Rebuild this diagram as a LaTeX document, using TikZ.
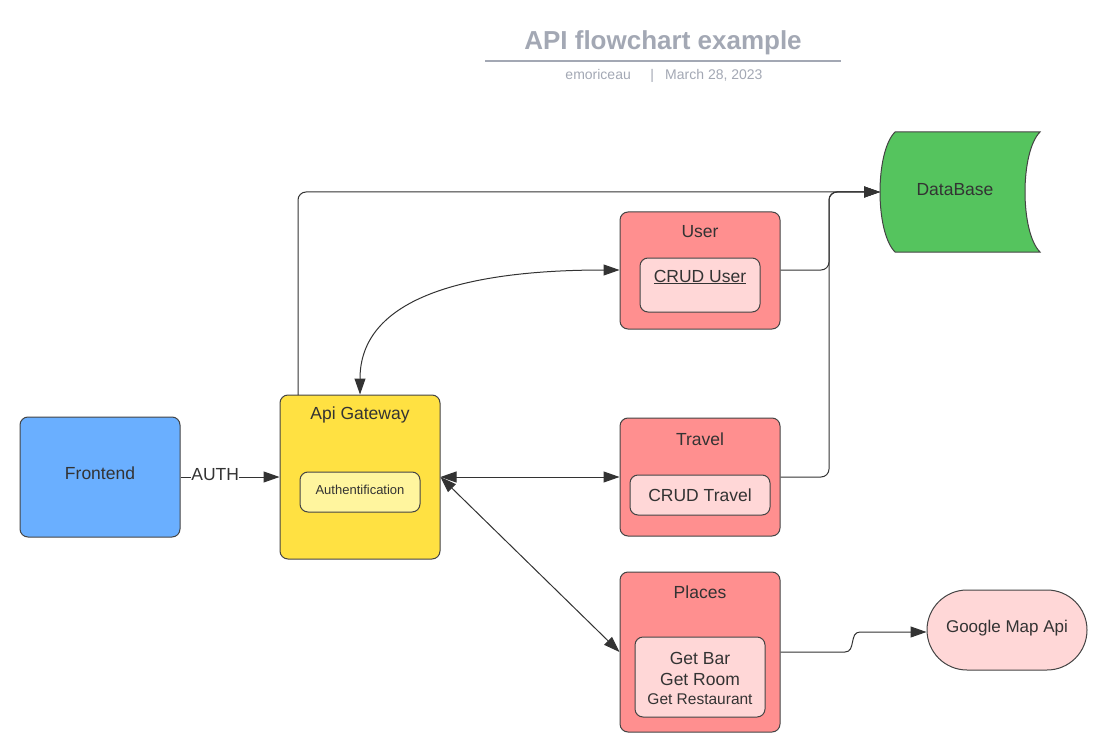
\documentclass[tikz,border=0pt]{standalone}
\usepackage{fontspec}
\setmainfont{Liberation Sans}
\usetikzlibrary{arrows.meta}
\definecolor{txt}{HTML}{333333}
\definecolor{edge}{HTML}{444444}
\definecolor{ttl}{HTML}{A3A8B4}
\definecolor{fblue}{HTML}{6AAFFF}
\definecolor{fyellow}{HTML}{FFE142}
\definecolor{flyellow}{HTML}{FFF59E}
\definecolor{fred}{HTML}{FF8F8F}
\definecolor{flred}{HTML}{FFD7D7}
\definecolor{fgreen}{HTML}{55C45E}
\tikzset{
  box/.style={draw=edge, line width=1pt, rounded corners=8pt, inner sep=0pt},
  lbl/.style={text=txt, inner sep=0pt, font=\fontsize{17.5}{21}\selectfont, align=center},
  conn/.style={draw=txt, line width=1pt},
  tip/.tip={Triangle[length=16pt,width=11pt]},
  arr/.style={conn, -tip},
  darr/.style={conn, tip-tip},
}
\begin{document}
\begin{tikzpicture}[x=1pt,y=-1pt]
\useasboundingbox (0,0) rectangle (1107,751);
% title
\node[text=ttl, font=\fontsize{26}{30}\selectfont\bfseries, inner sep=0pt] (title) at (663,42.5) {API flowchart example};
\coordinate (tl) at (485,61);
\coordinate (tr) at (841,61);
\draw[ttl, line width=2pt] (tl) -- (tr);
\node[text=ttl, font=\fontsize{14}{17}\selectfont, inner sep=0pt] (sub) at (664,76) {emoriceau\hspace{1.4em}|\hspace{0.8em}March 28, 2023};

% frontend
\node[box, fill=fblue, minimum width=160pt, minimum height=120pt] (fe) at (100,477) {};
\node[lbl] (fet) at (100,473) {Frontend};

% gateway
\node[box, fill=fyellow, minimum width=160pt, minimum height=164pt] (gw) at (360,477) {};
\node[lbl] (gwt) at (360,415) {Api Gateway};
\node[box, fill=flyellow, minimum width=120pt, minimum height=40pt, text=txt, font=\fontsize{13}{16}\selectfont] (auth) at (360,492) {};
\node[lbl, font=\fontsize{13}{16}\selectfont] (autht) at (360,490) {Authentification};

% user
\node[box, fill=fred, minimum width=160pt, minimum height=117pt] (user) at (700,270.5) {};
\node[lbl] (usert) at (700,232) {User};
\node[box, fill=flred, minimum width=120pt, minimum height=54pt] (cuser) at (700,285) {};
\node[lbl] (cusert) at (700,277) {\underline{CRUD User}};

% travel
\node[box, fill=fred, minimum width=160pt, minimum height=118pt] (travel) at (700,477) {};
\node[lbl] (travelt) at (700,439) {Travel};
\node[box, fill=flred, minimum width=140pt, minimum height=40pt] (ctravel) at (700,495) {};
\node[lbl] (ctravelt) at (700,495) {CRUD Travel};

% places
\node[box, fill=fred, minimum width=160pt, minimum height=160pt] (places) at (700,652) {};
\node[lbl] (placest) at (700,592) {Places};
\node[box, fill=flred, minimum width=130pt, minimum height=80pt] (cplaces) at (700,677) {};
\node[lbl] (gb) at (700,658) {Get Bar};
\node[lbl] (gr) at (700,679) {Get Room};
\node[lbl, font=\fontsize{15.5}{18}\selectfont] (grest) at (700,699) {Get Restaurant};

% database
\path[draw=edge, line width=1pt, fill=fgreen] (895,132) -- (1040,132)
  .. controls (1020,152) and (1020,232) .. (1040,252) -- (895,252)
  .. controls (875,232) and (875,152) .. (895,132) -- cycle;
\node[lbl] (db) at (955,190) {DataBase};
\coordinate (dbin) at (880,192);

% google map api
\node[box, fill=flred, rounded corners=40pt, minimum width=160pt, minimum height=80pt] (gm) at (1007,630) {};
\node[lbl, font=\fontsize{17}{20}\selectfont] (gmt) at (1007,628) {Google Map Api};

% connectors
\draw[arr] (fe.east |- 0,477) -- node[fill=white, text=txt, inner sep=0.5pt, font=\fontsize{17.5}{21}\selectfont, pos=0.35, yshift=2pt] (authl) {AUTH} (gw.west |- 0,477);

\coordinate (gwup) at (298,395);
\coordinate (c1) at (298,192);
\draw[arr, rounded corners=8pt] (gwup) -- (c1) -- (dbin);

\coordinate (u1) at (829,270);
\coordinate (u2) at (829,192);
\draw[arr, rounded corners=8pt] (user.east |- u1) -- (u1) -- (u2) -- (dbin);

\coordinate (t1) at (829,477);
\draw[arr, rounded corners=8pt] (travel.east) -- (t1) -- (u2) -- (dbin);

\draw[darr] (gw.north) .. controls (360,300) and (460,270) .. (user.west |- u1);
\draw[darr] (gw.east) -- (travel.west);
\draw[darr] (gw.east) -- (places.west);

\coordinate (p1) at (845,652);
\coordinate (p2) at (860,632);
\draw[arr] (places.east) -- (p1) .. controls (856,652) and (849,632) .. (p2) -- (gm.west |- p2);
\end{tikzpicture}
\end{document}
